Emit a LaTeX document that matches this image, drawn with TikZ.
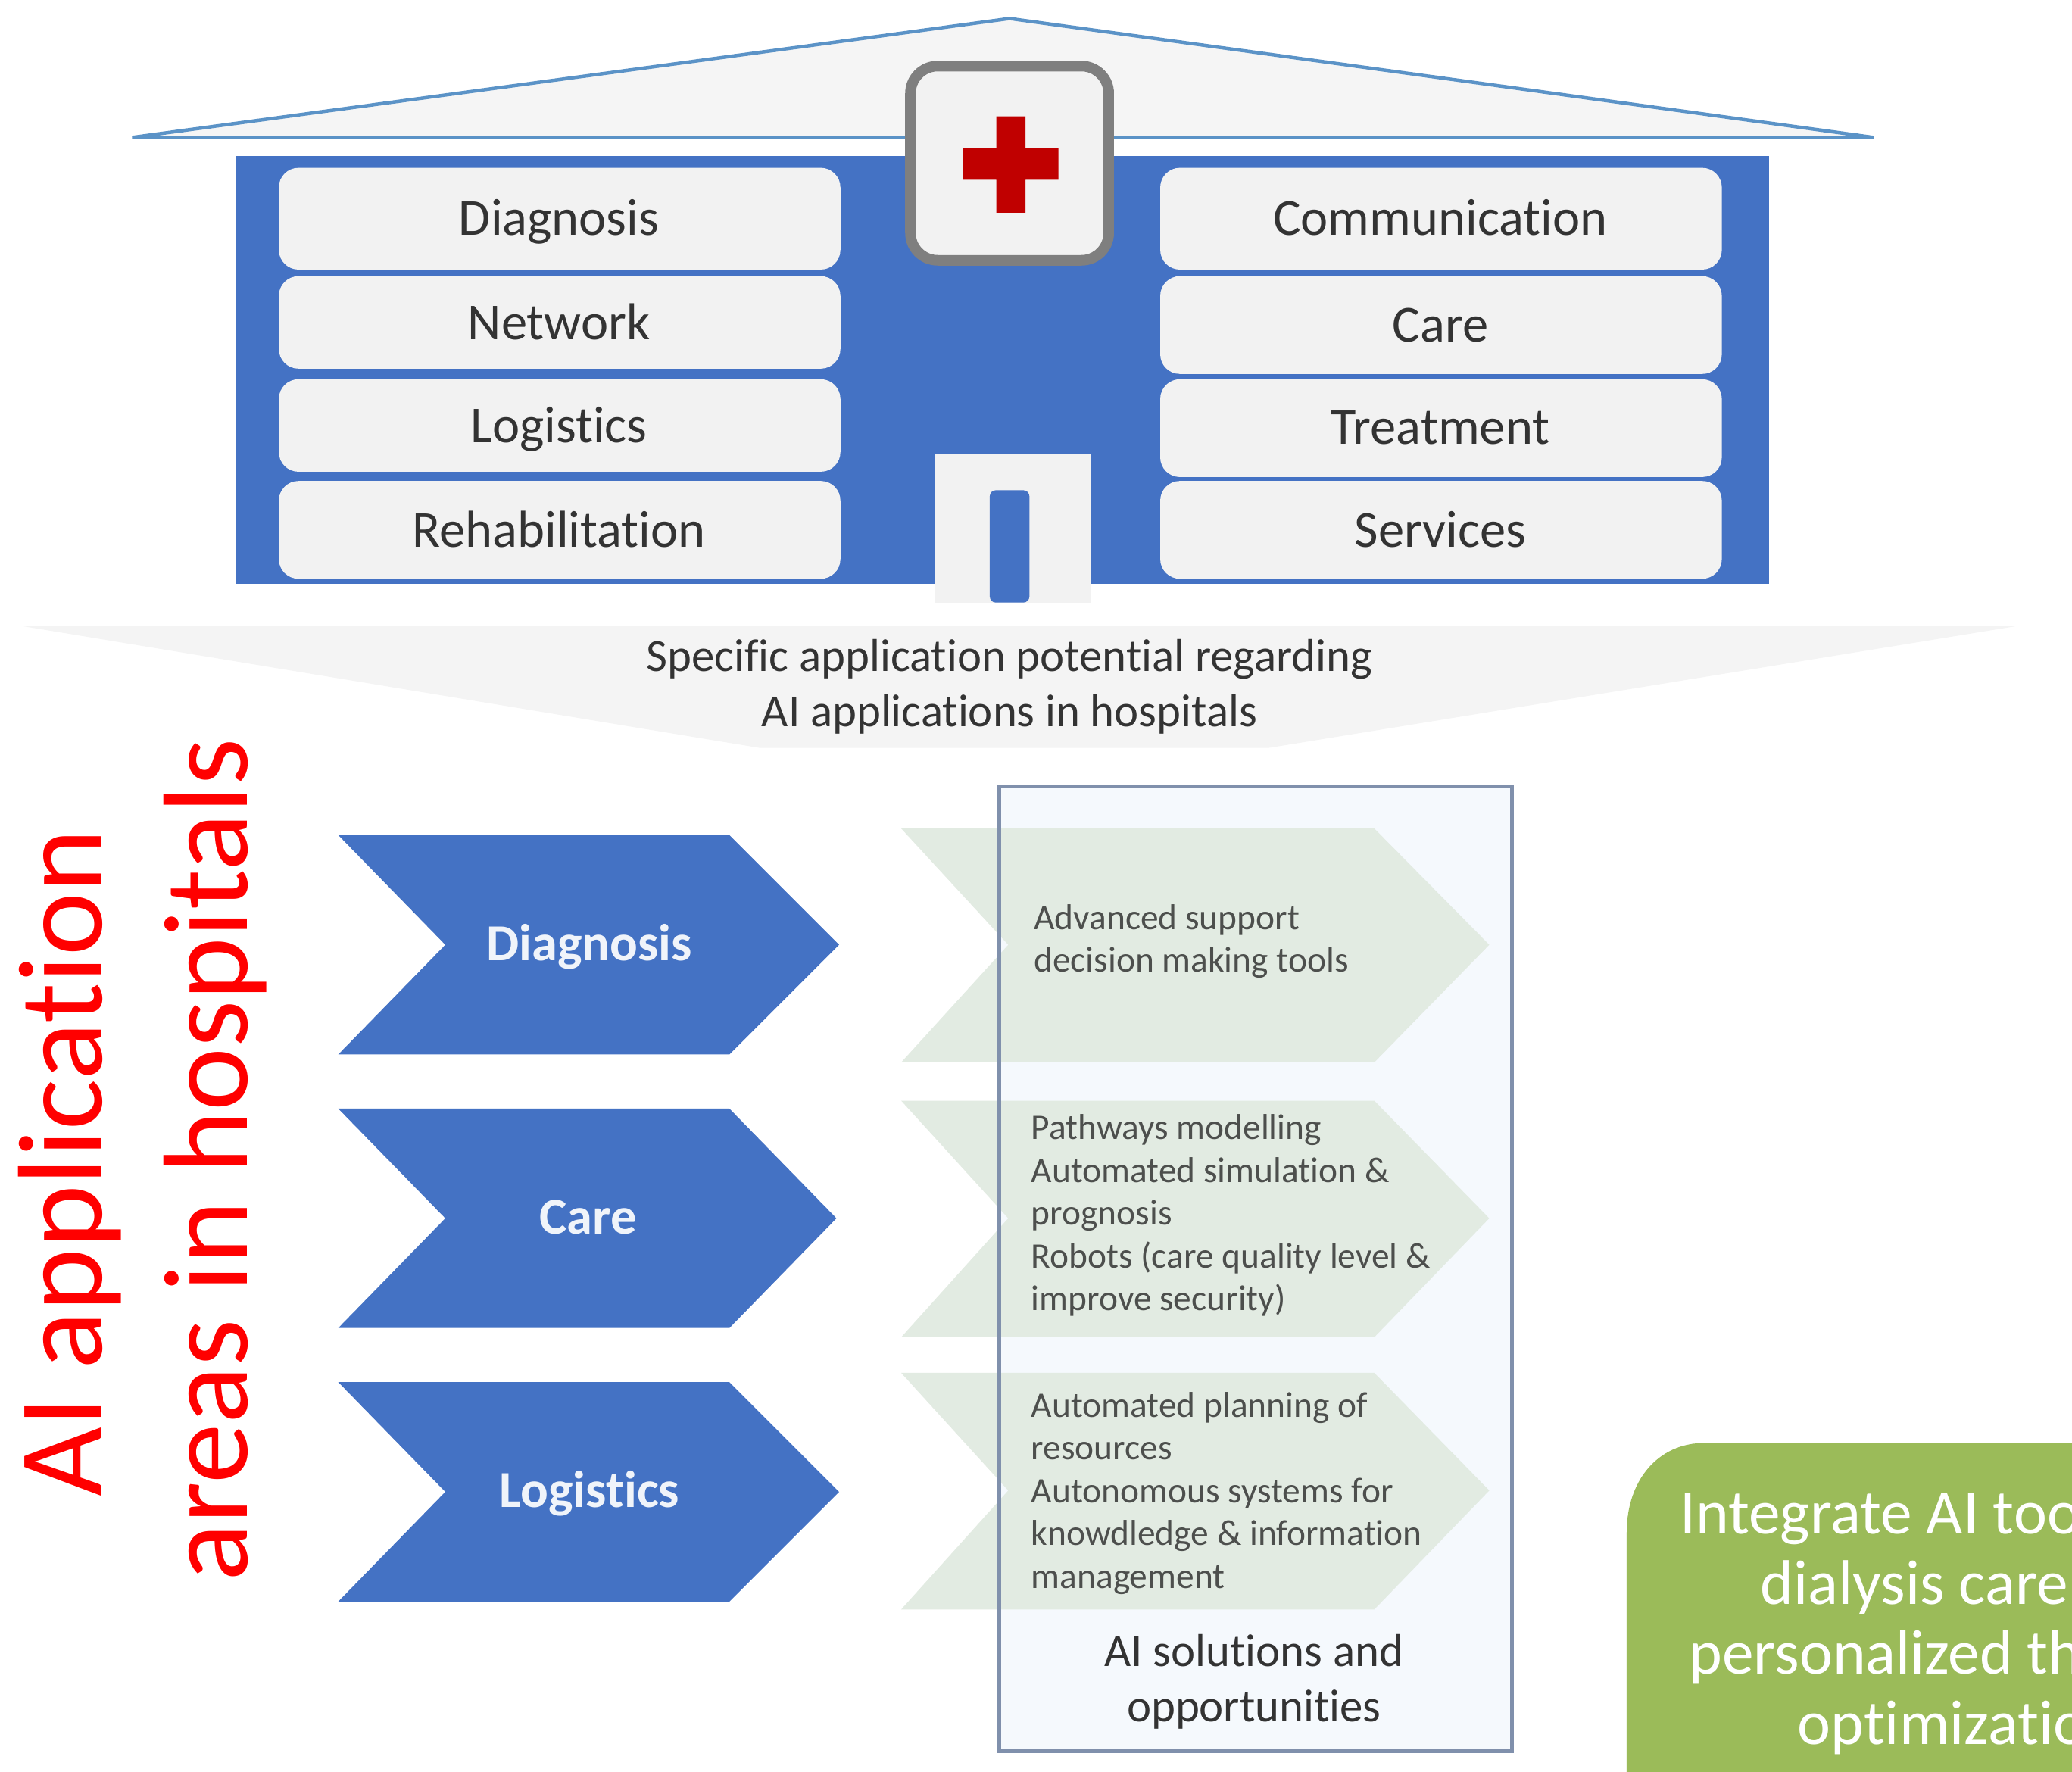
\documentclass[tikz,border=0pt]{standalone}
\usepackage{fontspec}
\setmainfont{Carlito}[Ligatures=NoCommon]
\definecolor{hblue}{HTML}{4472C4}
\definecolor{pale}{HTML}{F2F2F2}
\definecolor{roofline}{HTML}{5B93C7}
\definecolor{banner}{HTML}{F4F4F4}
\definecolor{chevgreen}{HTML}{E2EBE2}
\definecolor{panelfill}{HTML}{F5F9FD}
\definecolor{panelline}{HTML}{8090AC}
\definecolor{signgray}{HTML}{7F7F7F}
\definecolor{crossred}{HTML}{C00000}
\definecolor{txt}{HTML}{333333}
\definecolor{greenbox}{HTML}{9BBB59}
\tikzset{
  x=0.1745mm, y=-0.1745mm,
  roomlabel/.style={font=\fontsize{19.5}{23}\selectfont, text=txt, inner sep=0pt, anchor=base},
  roombox/.style={fill=pale, draw=none, rounded corners=2.6mm},
  bannerlabel/.style={font=\fontsize{17.3}{20.8}\selectfont, text=txt, inner sep=0pt, align=center, anchor=base},
  chevlabel/.style={font=\bfseries\fontsize{19.5}{23}\selectfont, text=white!92!hblue, inner sep=0pt, anchor=base},
  sollabel/.style={font=\fontsize{13.5}{16.1}\selectfont, text=txt!85!chevgreen, inner sep=0pt, align=left, anchor=north west},
  panellabel/.style={font=\fontsize{17.3}{20.8}\selectfont, text=txt, inner sep=0pt, align=center, anchor=base},
  redlabel/.style={font=\fontsize{45.2}{54}\selectfont, text=red, inner sep=0pt, rotate=90, anchor=base},
  greenlabel/.style={font=\fontsize{23.7}{26}\selectfont, text=white, inner sep=0pt, anchor=base west},
}
\begin{document}
\begin{tikzpicture}
\useasboundingbox (0,0) rectangle (1568,1341);
\fill[white] (0,0) rectangle (1568,1341);
% roof
\fill[pale!80!white] (100,104) -- (764,14) -- (1418,104) -- cycle;
\draw[roofline, line width=0.45mm, line join=miter] (100,104) -- (764,14) -- (1418,104) -- cycle;
% building
\fill[hblue] (178,118) rectangle (1339,442);
% rooms
\fill[roombox] (211,127) rectangle (636,204);
\fill[roombox] (211,209) rectangle (636,279);
\fill[roombox] (211,287) rectangle (636,357);
\fill[roombox] (211,364) rectangle (636,438);
\fill[roombox] (878,127) rectangle (1303,204);
\fill[roombox] (878,209) rectangle (1303,283);
\fill[roombox] (878,287) rectangle (1303,361);
\fill[roombox] (878,364) rectangle (1303,438);
\node[roomlabel] (l1) at (423,178) {Diagnosis};
\node[roomlabel] (l2) at (423,257) {Network};
\node[roomlabel] (l3) at (423,335) {Logistics};
\node[roomlabel] (l4) at (423,414) {Rehabilitation};
\node[roomlabel] (r1) at (1090,178) {Communication};
\node[roomlabel] (r2) at (1090,259) {Care};
\node[roomlabel] (r3) at (1090,336) {Treatment};
\node[roomlabel] (r4) at (1090,414) {Services};
% sign
\draw[signgray, fill=pale, line width=1.4mm, rounded corners=3.6mm] (689,50) rectangle (839,197);
\fill[crossred] (754,88) -- (776,88) -- (776,112) -- (801,112) -- (801,136) -- (776,136) -- (776,161) -- (754,161) -- (754,136) -- (729,136) -- (729,112) -- (754,112) -- cycle;
% door
\fill[pale] (707,344) rectangle (825,456);
\fill[hblue, rounded corners=0.8mm] (749,371) rectangle (779,456);
% banner
\fill[banner] (18,474) -- (1525,474) -- (960,566) -- (575,566) -- cycle;
\node[bannerlabel] (spec) at (764,508) {Specific application potential regarding};
\node[bannerlabel] (spec2) at (764,550) {AI applications in hospitals};
% blue chevrons
\fill[hblue] (256,632) -- (552,632) -- (635,715) -- (552,798) -- (256,798) -- (337,715) -- cycle;
\fill[hblue] (256,839) -- (552,839) -- (633,922) -- (552,1005) -- (256,1005) -- (337,922) -- cycle;
\fill[hblue] (256,1046) -- (552,1046) -- (635,1129) -- (552,1212) -- (256,1212) -- (337,1129) -- cycle;
\node[chevlabel] (c1) at (446,727) {Diagnosis};
\node[chevlabel] (c2) at (445,934) {Care};
\node[chevlabel] (c3) at (446,1141) {Logistics};
% panel
\fill[panelfill] (756,595) rectangle (1144,1325);
% pale chevrons
\fill[chevgreen] (682,627) -- (1040,627) -- (1127,715) -- (1040,804) -- (682,804) -- (763,715) -- cycle;
\fill[chevgreen] (682,833) -- (1040,833) -- (1127,922) -- (1040,1012) -- (682,1012) -- (763,922) -- cycle;
\fill[chevgreen] (682,1039) -- (1040,1039) -- (1127,1128) -- (1040,1218) -- (682,1218) -- (763,1128) -- cycle;
\draw[panelline, line width=0.5mm] (756,595) rectangle (1144,1325);
\node[sollabel] (s1) at (782,684) {Advanced support\\decision making tools};
\node[sollabel] (s2) at (780,843) {Pathways modelling\\Automated simulation \&\\prognosis\\Robots (care quality level \&\\improve security)};
\node[sollabel] (s3) at (780,1053) {Automated planning of\\resources\\Autonomous systems for\\knowdledge \& information\\management};
\node[panellabel] (p1) at (949,1261) {AI solutions and};
\node[panellabel] (p2) at (949,1303) {opportunities};
% red text
\node[redlabel] (red1) at (77,880) {AI application};
\node[redlabel] (red2) at (187,878) {areas in hospitals};
% green box
\fill[greenbox] (1568,1092) -- (1290,1092) .. controls (1255,1092) and (1231,1120) .. (1231,1160) -- (1231,1341) -- (1568,1341) -- cycle;
\node[greenlabel] (g1) at (1271,1161) {Integrate AI too};
\node[greenlabel] (g2) at (1332,1214) {dialysis care};
\node[greenlabel] (g3) at (1278,1267) {personalized th};
\node[greenlabel] (g4) at (1360,1320) {optimizatio};
\end{tikzpicture}
\end{document}
